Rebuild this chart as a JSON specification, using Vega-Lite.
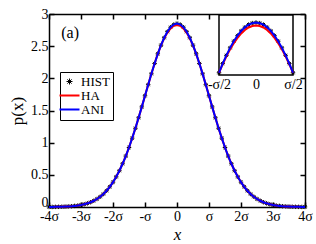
{
  "$schema": "https://vega.github.io/schema/vega-lite/v6.json",
  "width": 256,
  "height": 193,
  "autosize": {"type": "none"},
  "padding": {"left": 49, "top": 14, "right": 11, "bottom": 37},
  "background": "white",
  "datasets": {
    "main": [
      {"x":-4.0,"ANI":0.001,"HA":0.001},{"x":-3.9,"ANI":0.001,"HA":0.001},{"x":-3.8,"ANI":0.002,"HA":0.002},{"x":-3.7,"ANI":0.003,"HA":0.003},{"x":-3.6,"ANI":0.004,"HA":0.004},{"x":-3.5,"ANI":0.006,"HA":0.006},{"x":-3.4,"ANI":0.009,"HA":0.009},{"x":-3.3,"ANI":0.012,"HA":0.012},{"x":-3.2,"ANI":0.017,"HA":0.017},{"x":-3.1,"ANI":0.023,"HA":0.023},
      {"x":-3.0,"ANI":0.032,"HA":0.032},{"x":-2.9,"ANI":0.043,"HA":0.043},{"x":-2.8,"ANI":0.057,"HA":0.057},{"x":-2.7,"ANI":0.074,"HA":0.074},{"x":-2.6,"ANI":0.097,"HA":0.097},{"x":-2.5,"ANI":0.125,"HA":0.125},{"x":-2.4,"ANI":0.160,"HA":0.160},{"x":-2.3,"ANI":0.202,"HA":0.202},{"x":-2.2,"ANI":0.253,"HA":0.253},{"x":-2.1,"ANI":0.314,"HA":0.314},
      {"x":-2.0,"ANI":0.386,"HA":0.386},{"x":-1.9,"ANI":0.469,"HA":0.469},{"x":-1.8,"ANI":0.564,"HA":0.564},{"x":-1.7,"ANI":0.672,"HA":0.672},{"x":-1.6,"ANI":0.792,"HA":0.792},{"x":-1.5,"ANI":0.925,"HA":0.925},{"x":-1.4,"ANI":1.070,"HA":1.070},{"x":-1.3,"ANI":1.224,"HA":1.224},{"x":-1.2,"ANI":1.387,"HA":1.387},{"x":-1.1,"ANI":1.556,"HA":1.556},
      {"x":-1.0,"ANI":1.729,"HA":1.729},{"x":-0.9,"ANI":1.901,"HA":1.901},{"x":-0.8,"ANI":2.070,"HA":2.070},{"x":-0.7,"ANI":2.231,"HA":2.231},{"x":-0.6,"ANI":2.381,"HA":2.381},{"x":-0.5,"ANI":2.515,"HA":2.513},{"x":-0.4,"ANI":2.631,"HA":2.624},{"x":-0.3,"ANI":2.725,"HA":2.712},{"x":-0.2,"ANI":2.794,"HA":2.777},{"x":-0.1,"ANI":2.836,"HA":2.817},
      {"x":0.0,"ANI":2.850,"HA":2.830},
      {"x":0.1,"ANI":2.836,"HA":2.817},{"x":0.2,"ANI":2.794,"HA":2.777},{"x":0.3,"ANI":2.725,"HA":2.712},{"x":0.4,"ANI":2.631,"HA":2.624},{"x":0.5,"ANI":2.515,"HA":2.513},{"x":0.6,"ANI":2.381,"HA":2.381},{"x":0.7,"ANI":2.231,"HA":2.231},{"x":0.8,"ANI":2.070,"HA":2.070},{"x":0.9,"ANI":1.901,"HA":1.901},{"x":1.0,"ANI":1.729,"HA":1.729},
      {"x":1.1,"ANI":1.556,"HA":1.556},{"x":1.2,"ANI":1.387,"HA":1.387},{"x":1.3,"ANI":1.224,"HA":1.224},{"x":1.4,"ANI":1.070,"HA":1.070},{"x":1.5,"ANI":0.925,"HA":0.925},{"x":1.6,"ANI":0.792,"HA":0.792},{"x":1.7,"ANI":0.672,"HA":0.672},{"x":1.8,"ANI":0.564,"HA":0.564},{"x":1.9,"ANI":0.469,"HA":0.469},{"x":2.0,"ANI":0.386,"HA":0.386},
      {"x":2.1,"ANI":0.314,"HA":0.314},{"x":2.2,"ANI":0.253,"HA":0.253},{"x":2.3,"ANI":0.202,"HA":0.202},{"x":2.4,"ANI":0.160,"HA":0.160},{"x":2.5,"ANI":0.125,"HA":0.125},{"x":2.6,"ANI":0.097,"HA":0.097},{"x":2.7,"ANI":0.074,"HA":0.074},{"x":2.8,"ANI":0.057,"HA":0.057},{"x":2.9,"ANI":0.043,"HA":0.043},{"x":3.0,"ANI":0.032,"HA":0.032},
      {"x":3.1,"ANI":0.023,"HA":0.023},{"x":3.2,"ANI":0.017,"HA":0.017},{"x":3.3,"ANI":0.012,"HA":0.012},{"x":3.4,"ANI":0.009,"HA":0.009},{"x":3.5,"ANI":0.006,"HA":0.006},{"x":3.6,"ANI":0.004,"HA":0.004},{"x":3.7,"ANI":0.003,"HA":0.003},{"x":3.8,"ANI":0.002,"HA":0.002},{"x":3.9,"ANI":0.001,"HA":0.001},{"x":4.0,"ANI":0.001,"HA":0.001}
    ],
    "inset": [
      {"x":-0.5,"ANI":2.515,"HA":2.515},{"x":-0.45,"ANI":2.576,"HA":2.572},{"x":-0.4,"ANI":2.631,"HA":2.624},{"x":-0.35,"ANI":2.681,"HA":2.671},{"x":-0.3,"ANI":2.725,"HA":2.712},{"x":-0.25,"ANI":2.762,"HA":2.747},{"x":-0.2,"ANI":2.794,"HA":2.777},{"x":-0.15,"ANI":2.818,"HA":2.800},{"x":-0.1,"ANI":2.836,"HA":2.817},{"x":-0.05,"ANI":2.846,"HA":2.827},
      {"x":0.0,"ANI":2.850,"HA":2.830},
      {"x":0.05,"ANI":2.846,"HA":2.827},{"x":0.1,"ANI":2.836,"HA":2.817},{"x":0.15,"ANI":2.818,"HA":2.800},{"x":0.2,"ANI":2.794,"HA":2.777},{"x":0.25,"ANI":2.762,"HA":2.747},{"x":0.3,"ANI":2.725,"HA":2.712},{"x":0.35,"ANI":2.681,"HA":2.671},{"x":0.4,"ANI":2.631,"HA":2.624},{"x":0.45,"ANI":2.576,"HA":2.572},{"x":0.5,"ANI":2.515,"HA":2.515}
    ],
    "one": [{"label": "(a)"}]
  },
  "resolve": {"scale": {"x": "independent", "y": "independent"}},
  "layer": [
    {
      "data": {"name": "main"},
      "mark": {"type": "point", "shape": "M-1,0L1,0M0,-1L0,1M-0.7,-0.7L0.7,0.7M-0.7,0.7L0.7,-0.7", "filled": false, "size": 20, "strokeWidth": 1, "opacity": 1},
      "encoding": {
        "x": {"field": "x", "type": "quantitative", "scale": {"domain": [-4, 4], "nice": false},
              "axis": {"orient": "top", "values": [-4,-3,-2,-1,0,1,2,3,4], "labels": false, "title": null}},
        "y": {"field": "ANI", "type": "quantitative", "scale": {"domain": [0, 3], "nice": false, "zero": false},
              "axis": {"orient": "right", "values": [0,0.5,1,1.5,2,2.5,3], "labels": false, "title": null}},
        "color": {"datum": "HIST", "type": "nominal"}
      }
    },
    {
      "data": {"name": "main"},
      "transform": [{"fold": ["HA", "ANI"], "as": ["series", "p"]}],
      "mark": {"type": "line", "strokeWidth": 2},
      "encoding": {
        "x": {"field": "x", "type": "quantitative", "scale": {"domain": [-4, 4], "nice": false},
              "axis": {"orient": "bottom", "values": [-4,-3,-2,-1,0,1,2,3,4], "labelPadding": 7,
                       "labelExpr": "datum.value == 0 ? '0' : datum.value == 1 ? 'σ' : datum.value == -1 ? '-σ' : datum.value + 'σ'",
                       "title": "x", "titleFontStyle": "italic", "titlePadding": 3}},
        "y": {"field": "p", "type": "quantitative", "scale": {"domain": [0, 3], "nice": false, "zero": false},
              "axis": {"orient": "left", "values": [0,0.5,1,1.5,2,2.5,3], "labelPadding": 6,
                       "labelOffset": {"condition": {"test": "datum.value == 0", "value": -5}, "value": 0},
                       "labelExpr": "datum.value + ''", "title": "p(x)", "titlePadding": 4}},
        "color": {"field": "series", "type": "nominal",
                  "scale": {"domain": ["HIST", "HA", "ANI"], "range": ["black", "#ff0000", "#0000ff"]},
                  "legend": {"orient": "none", "legendX": 11, "legendY": 58, "title": null,
                             "strokeColor": "black", "padding": 3, "symbolType": "stroke", "symbolSize": 400,
                             "symbolStrokeWidth": 2, "labelFontSize": 13, "labelFont": "Liberation Serif", "labelColor": "black",
                             "rowPadding": 0, "labelOffset": 5,
                             "encode": {"symbols": {"update": {
                               "shape": {"signal": "datum.value === 'HIST' ? 'M-0.3,0L0.3,0M0,-0.3L0,0.3M-0.21,-0.21L0.21,0.21M-0.21,0.21L0.21,-0.21' : 'stroke'"},
                               "strokeWidth": {"signal": "datum.value === 'HIST' ? 1 : 2"}}}}}}
      }
    },
    {
      "layer": [
        {
          "data": {"name": "one"},
          "mark": {"type": "rect", "fill": "white", "stroke": "black", "strokeWidth": 1.5},
          "encoding": {
            "x": {"datum": -0.5, "type": "quantitative", "scale": {"domain": [-0.5, 0.5], "range": [170, 244], "nice": false, "zero": false},
                  "axis": {"orient": "bottom", "offset": -132, "values": [-0.5, 0, 0.5], "domain": false, "ticks": false, "labelPadding": 2,
                           "labelExpr": "datum.value == 0 ? '0' : datum.value < 0 ? '-σ/2' : 'σ/2'", "title": null}},
            "x2": {"datum": 0.5},
            "y": {"datum": 2.5, "type": "quantitative", "scale": {"domain": [2.5, 2.9], "range": [61, 1], "nice": false, "zero": false}, "axis": null},
            "y2": {"datum": 2.9}
          }
        },
        {
          "data": {"name": "inset"},
          "mark": {"type": "point", "shape": "M-1,0L1,0M0,-1L0,1M-0.7,-0.7L0.7,0.7M-0.7,0.7L0.7,-0.7", "filled": false, "size": 20, "strokeWidth": 1, "opacity": 1},
          "encoding": {
            "x": {"field": "x", "type": "quantitative"},
            "y": {"field": "ANI", "type": "quantitative"},
            "color": {"datum": "HIST", "type": "nominal"}
          }
        },
        {
          "data": {"name": "inset"},
          "transform": [{"fold": ["HA", "ANI"], "as": ["series", "p"]}],
          "mark": {"type": "line", "strokeWidth": 2, "clip": true},
          "encoding": {
            "x": {"field": "x", "type": "quantitative"},
            "y": {"field": "p", "type": "quantitative"},
            "color": {"field": "series", "type": "nominal"}
          }
        }
      ]
    },
    {
      "data": {"name": "one"},
      "mark": {"type": "text", "font": "Liberation Serif", "fontSize": 16, "color": "black"},
      "encoding": {
        "x": {"datum": -3.34, "type": "quantitative", "scale": {"domain": [-4, 4], "nice": false}, "axis": null},
        "y": {"datum": 2.7, "type": "quantitative", "scale": {"domain": [0, 3], "nice": false}, "axis": null},
        "text": {"field": "label"}
      }
    }
  ],
  "config": {
    "font": "Liberation Serif",
    "view": {"stroke": null},
    "axis": {"domainColor": "black", "domainWidth": 1.5, "tickColor": "black", "tickWidth": 1.5, "tickSize": -5,
             "labelFont": "Liberation Serif", "labelFontSize": 14, "labelColor": "black", "grid": false,
             "labelFlush": false, "labelOverlap": false, "labelPadding": 2,
             "titleFont": "Liberation Serif", "titleFontWeight": "normal", "titleColor": "black", "titleFontSize": 17}
  }
}
